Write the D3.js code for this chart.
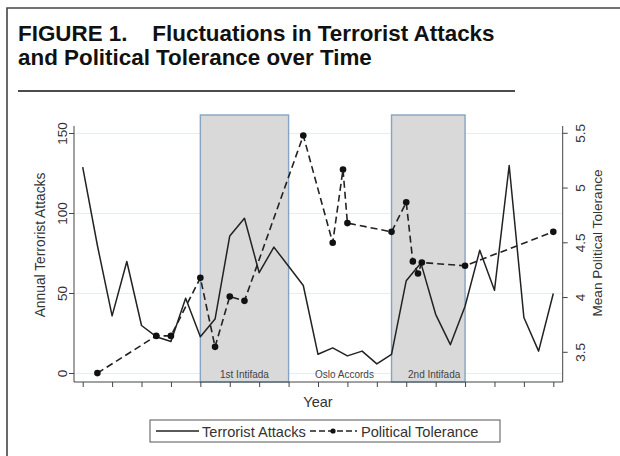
<!DOCTYPE html>
<html><head><meta charset="utf-8">
<script src="https://cdn.jsdelivr.net/npm/d3@7"></script>
<style>body{margin:0;background:#fff}svg{display:block}</style>
</head><body>
<script>
const attackYears = d3.range(1979, 2012);
const attacks = [129, 80, 36, 70, 30, 23, 20, 47, 23, 34, 86, 97, 63, 79, 67, 55, 12, 16, 11, 14, 6, 12, 58, 69, 37, 18, 42, 77, 52, 130, 35, 14, 50];
const tolYears = [1980, 1984, 1985, 1987, 1988, 1989, 1990, 1994, 1996, 1996.7, 1997, 2000, 2001, 2001.45, 2001.8, 2002.06, 2005, 2011];
const tolerance = [3.31, 3.65, 3.65, 4.18, 3.55, 4.01, 3.97, 5.48, 4.5, 5.17, 4.68, 4.6, 4.87, 4.33, 4.22, 4.32, 4.29, 4.6];
const periods = [{label:"1st Intifada", start:1987, end:1993},{label:"2nd Intifada", start:2000, end:2005}];
const periodLabels = [{label:"1st Intifada", x:1990},{label:"Oslo Accords", x:1996.8},{label:"2nd Intifada", x:2002.9}];
const leftTicks = [0, 50, 100, 150];
const rightTicks = [3.5, 4, 4.5, 5, 5.5];

const W = 620, H = 456;
const svg = d3.select("body").append("svg").attr("width", W).attr("height", H);
const font = "'Liberation Sans', Arial, Helvetica, sans-serif";

// frame
svg.append("path").attr("d", "M7,456 V8 H620").attr("fill","none").attr("stroke","#444").attr("stroke-width",1.6);

// title
const title = svg.append("text").attr("font-family", font).attr("font-weight","bold").attr("font-size",22.4).attr("fill","#111");
title.append("tspan").attr("x",18).attr("y",41).attr("xml:space","preserve").text("FIGURE 1.    Fluctuations in Terrorist Attacks");
title.append("tspan").attr("x",18).attr("y",65).text("and Political Tolerance over Time");
svg.append("line").attr("x1",18).attr("x2",515).attr("y1",91).attr("y2",91).attr("stroke","#111").attr("stroke-width",1.3);

const xL = 74, xR = 562.7, yTop = 126, yBot = 382;
const x = d3.scaleLinear().domain([1979, 2011]).range([82.7, 553.3]);
const yL = d3.scaleLinear().domain([0, 150]).range([373.5, 133.5]);
const yR = d3.scaleLinear().domain([3.5, 5.5]).range([352.3, 133.3]);

// gridlines
svg.append("g").selectAll("line").data(leftTicks).join("line")
  .attr("x1", xL).attr("x2", xR).attr("y1", d=>yL(d)).attr("y2", d=>yL(d))
  .attr("stroke", "#e6eef0").attr("stroke-width", 1.2);

// shaded periods
svg.append("g").selectAll("rect").data(periods).join("rect")
  .attr("x", d=>x(d.start)).attr("width", d=>x(d.end)-x(d.start))
  .attr("y", 115).attr("height", yBot-115)
  .attr("fill", "#d9d9d9").attr("stroke", "#86a3c3").attr("stroke-width", 1.4);

svg.append("g").selectAll("text").data(periodLabels).join("text")
  .attr("x", d=>x(d.x)).attr("y", 377.5).attr("text-anchor","middle")
  .attr("font-family", font).attr("font-size", 10).attr("fill","#444").text(d=>d.label);

// axes
const axL = svg.append("g").attr("transform", `translate(${xL},0)`)
  .call(d3.axisLeft(yL).tickValues(leftTicks).tickSize(5).tickSizeOuter(0));
const axR = svg.append("g").attr("transform", `translate(${xR},0)`)
  .call(d3.axisRight(yR).tickValues(rightTicks).tickSize(5).tickSizeOuter(0).tickFormat(d3.format("~g")));
const axB = svg.append("g").attr("transform", `translate(0,${yBot})`)
  .call(d3.axisBottom(x).tickValues(d3.range(1979, 2012, 2)).tickSize(5).tickSizeOuter(0).tickFormat(""));
[axL, axR, axB].forEach(a => { a.selectAll("line").attr("stroke","#444"); a.select(".domain").remove(); });
svg.append("line").attr("x1",xL).attr("x2",xL).attr("y1",yTop).attr("y2",yBot).attr("stroke","#444");
svg.append("line").attr("x1",xR).attr("x2",xR).attr("y1",yTop).attr("y2",yBot).attr("stroke","#444");
svg.append("line").attr("x1",xL).attr("x2",xR).attr("y1",yBot).attr("y2",yBot).attr("stroke","#444");

axL.selectAll(".tick").attr("transform", null);
axL.selectAll(".tick line").attr("transform", d=>`translate(0,${yL(d)})`);
axL.selectAll("text").attr("font-family", font).attr("font-size", 13.5).attr("fill","#333")
  .attr("text-anchor","middle").attr("dy",0)
  .each(function(d){ d3.select(this).attr("transform", `translate(-7.5,${yL(d)}) rotate(-90)`).attr("x",0).attr("y",0); });
axR.selectAll(".tick").attr("transform", null);
axR.selectAll(".tick line").attr("transform", d=>`translate(0,${yR(d)})`);
axR.selectAll("text").attr("font-family", font).attr("font-size", 13.5).attr("fill","#333")
  .attr("text-anchor","middle").attr("dy",0)
  .each(function(d){ d3.select(this).attr("transform", `translate(22,${yR(d)}) rotate(-90)`).attr("x",0).attr("y",0); });

// axis titles
svg.append("text").attr("transform", `translate(45,245) rotate(-90)`).attr("text-anchor","middle")
  .attr("font-family", font).attr("font-size", 13.8).attr("fill","#333").text("Annual Terrorist Attacks");
svg.append("text").attr("transform", `translate(602,243) rotate(-90)`).attr("text-anchor","middle")
  .attr("font-family", font).attr("font-size", 13.6).attr("fill","#333").text("Mean Political Tolerance");
svg.append("text").attr("x", 318).attr("y", 407).attr("text-anchor","middle")
  .attr("font-family", font).attr("font-size", 14.5).attr("fill","#333").text("Year");

// series
const lineA = d3.line().x((d,i)=>x(attackYears[i])).y(d=>yL(d));
svg.append("path").datum(attacks).attr("d", lineA).attr("fill","none").attr("stroke","#222").attr("stroke-width",1.5).attr("stroke-linejoin","round");
const lineT = d3.line().x((d,i)=>x(tolYears[i])).y(d=>yR(d));
svg.append("path").datum(tolerance).attr("d", lineT).attr("fill","none").attr("stroke","#222").attr("stroke-width",1.6).attr("stroke-dasharray","7,4");
svg.append("g").selectAll("circle").data(tolerance).join("circle")
  .attr("cx",(d,i)=>x(tolYears[i])).attr("cy", d=>yR(d)).attr("r",3.3).attr("fill","#111");

// legend
const lg = svg.append("g");
lg.append("rect").attr("x",150).attr("y",420).attr("width",350).attr("height",22).attr("fill","#fff").attr("stroke","#555").attr("stroke-width",1);
lg.append("line").attr("x1",156).attr("x2",199).attr("y1",431).attr("y2",431).attr("stroke","#222").attr("stroke-width",1.3);
lg.append("text").attr("x",202).attr("y",436.5).attr("font-family",font).attr("font-size",14.6).attr("fill","#333").text("Terrorist Attacks");
lg.append("line").attr("x1",310).attr("x2",357).attr("y1",431).attr("y2",431).attr("stroke","#222").attr("stroke-width",1.3).attr("stroke-dasharray","6,3");
lg.append("circle").attr("cx",333).attr("cy",431).attr("r",2.6).attr("fill","#111");
lg.append("text").attr("x",361).attr("y",436.5).attr("font-family",font).attr("font-size",14.6).attr("fill","#333").text("Political Tolerance");
</script>
</body></html>
